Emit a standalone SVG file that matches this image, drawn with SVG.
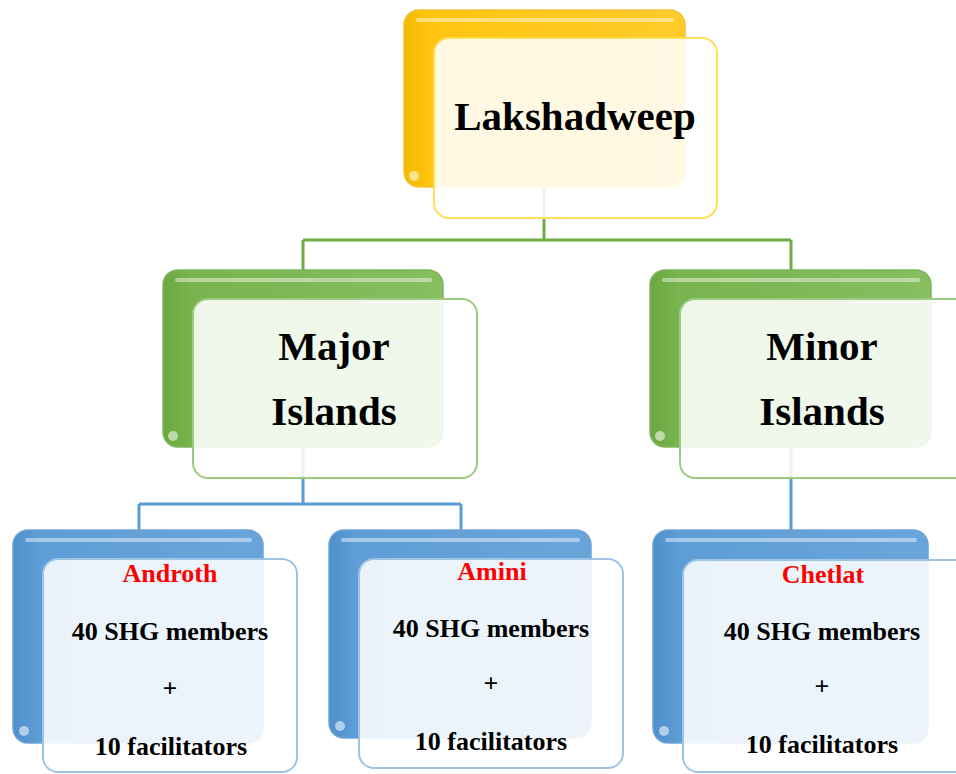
<svg xmlns="http://www.w3.org/2000/svg" width="956" height="774" viewBox="0 0 956 774">
<defs>
<linearGradient id="gy" x1="0" y1="0" x2="1" y2="0">
<stop offset="0" stop-color="#F5B800"/><stop offset="0.1" stop-color="#FFC510"/><stop offset="1" stop-color="#FFCB2A"/>
</linearGradient>
<linearGradient id="gg" x1="0" y1="0" x2="1" y2="0">
<stop offset="0" stop-color="#6AA83F"/><stop offset="0.1" stop-color="#78B44F"/><stop offset="1" stop-color="#86BE60"/>
</linearGradient>
<linearGradient id="gb" x1="0" y1="0" x2="1" y2="0">
<stop offset="0" stop-color="#4E8FCC"/><stop offset="0.1" stop-color="#5E9DD6"/><stop offset="1" stop-color="#6AA5DA"/>
</linearGradient>
<style>
.back{stroke-width:1.5}
.y .back{fill:url(#gy);stroke:#F2C23A}
.g .back{fill:url(#gg);stroke:#7FB45C}
.b .back{fill:url(#gb);stroke:#6FA3D6}
.hl{fill:none;stroke:#ffffff;stroke-opacity:0.45;stroke-width:4;stroke-linecap:round}
.dot{fill:#ffffff;fill-opacity:0.55}
.front{fill:#ffffff;fill-opacity:0.88;stroke-width:2}
.y .front{stroke:#FFDD55}
.g .front{stroke:#9CCB80}
.b .front{stroke:#9DC3E6}
.t{font-family:"Liberation Serif","Times New Roman",serif;font-weight:bold;fill:#000;text-anchor:middle}
.big{font-size:41px}
.sm{font-size:26px}
.red{fill:#FF0000}
.cg{fill:none;stroke:#70AD47;stroke-width:3}
.cb{fill:none;stroke:#5B9BD5;stroke-width:3}
</style>
</defs>
<rect width="956" height="774" fill="#ffffff"/>
<g id="connectors">
<path class="cg" d="M544 187 V240 M303 240 H791 M303 240 V270 M791 240 V270"/>
<path class="cb" d="M303 447 V504 M139 504 H461 M139 504 V530 M461 504 V530"/>
<path class="cb" d="M791 447 V530"/>
</g>
<g id="node-lakshadweep" class="y">
<rect class="back" x="404" y="10" width="281" height="177" rx="15"/>
<path class="hl" d="M418 20 H672"/>
<circle class="dot" cx="414" cy="176" r="5"/>
<rect class="front" x="434" y="38" width="283" height="180" rx="15"/>
<text class="t big" x="575" y="130">Lakshadweep</text>
</g>
<g id="node-major" class="g">
<rect class="back" x="163" y="270" width="280" height="177" rx="15"/>
<path class="hl" d="M177 280 H430"/>
<circle class="dot" cx="173" cy="436" r="5"/>
<rect class="front" x="193" y="299" width="284" height="179" rx="15"/>
<text class="t big" x="334" y="360">Major</text>
<text class="t big" x="334" y="425">Islands</text>
</g>
<g id="node-minor" class="g">
<rect class="back" x="650" y="270" width="281" height="177" rx="15"/>
<path class="hl" d="M664 280 H918"/>
<circle class="dot" cx="660" cy="436" r="5"/>
<rect class="front" x="680" y="299" width="290" height="179" rx="15"/>
<text class="t big" x="822" y="360">Minor</text>
<text class="t big" x="822" y="425">Islands</text>
</g>
<g id="node-androth" class="b">
<rect class="back" x="13" y="530" width="250" height="213" rx="15"/>
<path class="hl" d="M27 540 H250"/>
<circle class="dot" cx="24" cy="731" r="5"/>
<rect class="front" x="43" y="559" width="254" height="213" rx="15"/>
<text class="t sm red" x="170" y="582">Androth</text>
<text class="t sm" x="170" y="640">40 SHG members</text>
<text class="t sm" x="170" y="697">+</text>
<text class="t sm" x="171" y="755">10 facilitators</text>
</g>
<g id="node-amini" class="b">
<rect class="back" x="329" y="530" width="262" height="208" rx="15"/>
<path class="hl" d="M343 540 H578"/>
<circle class="dot" cx="340" cy="726" r="5"/>
<rect class="front" x="359" y="559" width="264" height="209" rx="15"/>
<text class="t sm red" x="492" y="580">Amini</text>
<text class="t sm" x="491" y="637">40 SHG members</text>
<text class="t sm" x="491" y="692">+</text>
<text class="t sm" x="491" y="750">10 facilitators</text>
</g>
<g id="node-chetlat" class="b">
<rect class="back" x="653" y="530" width="275" height="213" rx="15"/>
<path class="hl" d="M667 540 H915"/>
<circle class="dot" cx="664" cy="731" r="5"/>
<rect class="front" x="683" y="560" width="290" height="212" rx="15"/>
<text class="t sm red" x="823" y="583">Chetlat</text>
<text class="t sm" x="822" y="640">40 SHG members</text>
<text class="t sm" x="822" y="695">+</text>
<text class="t sm" x="822" y="753">10 facilitators</text>
</g>
</svg>
